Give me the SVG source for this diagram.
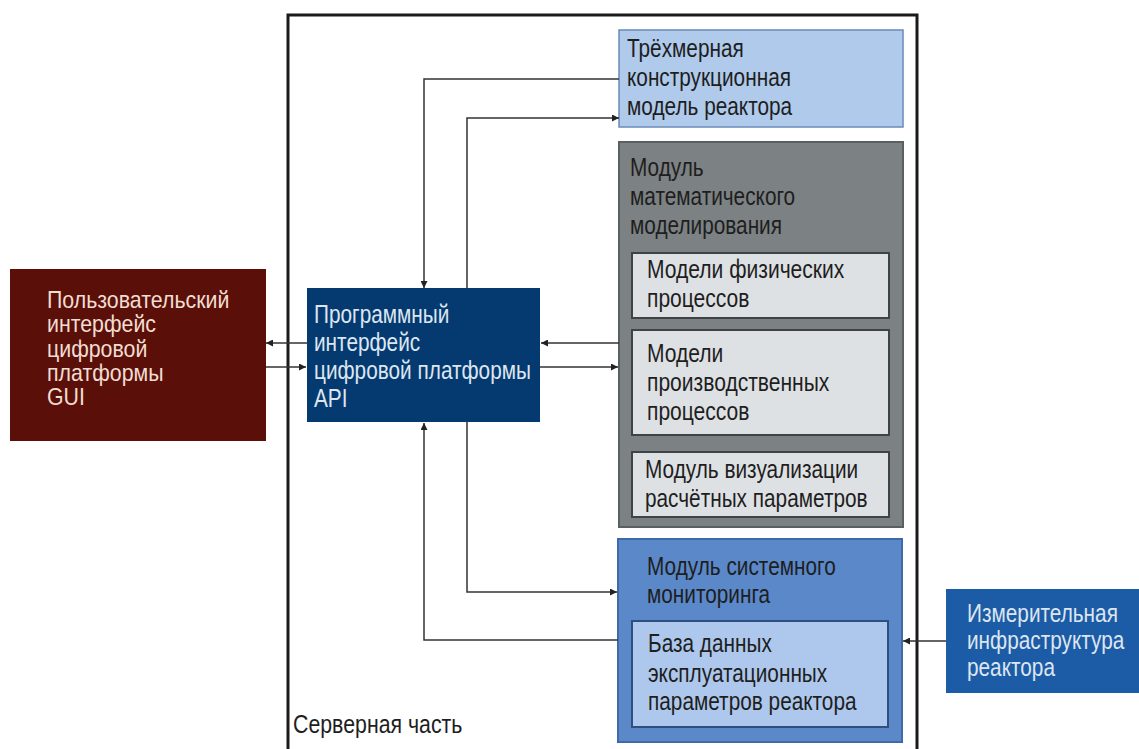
<svg xmlns="http://www.w3.org/2000/svg" width="1139" height="749" viewBox="0 0 1139 749">
<defs>
<style>
text{font-family:"Liberation Sans",Arial,sans-serif;font-size:26px}
.dk{fill:#1e1e1e}
.lt{fill:#dde6f0}
.gui{fill:#f2ddd3;font-size:24px}
.conn{fill:none;stroke:#333;stroke-width:1.5}
</style>
<marker id="ah" viewBox="0 0 8 8" refX="8" refY="4" markerWidth="7" markerHeight="7" markerUnits="userSpaceOnUse" orient="auto">
<path d="M0,0 L8,4 L0,8 z" fill="#222"/>
</marker>
</defs>
<rect width="1139" height="749" fill="#ffffff"/>
<g id="server">
<rect x="288" y="15" width="629" height="760" fill="none" stroke="#1a1a1a" stroke-width="3"/>
<text transform="translate(293,0) scale(0.82,1)" class="dk" font-size="24"><tspan x="0" y="733">Серверная часть</tspan></text>
</g>
<g id="model3d">
<rect x="619" y="30" width="284" height="97" fill="#afcaeb" stroke="#6a8ab8" stroke-width="1.5"/>
<text class="dk" transform="translate(627,0) scale(0.8,1)"><tspan x="0" y="57">Трёхмерная</tspan><tspan x="0" y="86">конструкционная</tspan><tspan x="0" y="115">модель реактора</tspan></text>
</g>
<g id="mathmod">
<rect x="619" y="142" width="284" height="385" fill="#7c8183" stroke="#5a5f61" stroke-width="2"/>
<text class="dk" transform="translate(630,0) scale(0.8,1)"><tspan x="0" y="176">Модуль</tspan><tspan x="0" y="205">математического</tspan><tspan x="0" y="234">моделирования</tspan></text>
</g>
<g id="phys">
<rect x="632" y="253" width="257" height="65" fill="#dee1e4" stroke="#3f4345" stroke-width="2"/>
<text class="dk" transform="translate(647,0) scale(0.81,1)"><tspan x="0" y="278">Модели физических</tspan><tspan x="0" y="307">процессов</tspan></text>
</g>
<g id="prod">
<rect x="632" y="330" width="257" height="105" fill="#dee1e4" stroke="#3f4345" stroke-width="2"/>
<text class="dk" transform="translate(647,0) scale(0.81,1)"><tspan x="0" y="362">Модели</tspan><tspan x="0" y="391">производственных</tspan><tspan x="0" y="420">процессов</tspan></text>
</g>
<g id="vis">
<rect x="632" y="452" width="257" height="65" fill="#dee1e4" stroke="#3f4345" stroke-width="2"/>
<text class="dk" transform="translate(645,0) scale(0.8,1)"><tspan x="0" y="478">Модуль визуализации</tspan><tspan x="0" y="507">расчётных параметров</tspan></text>
</g>
<g id="monitor">
<rect x="618" y="539" width="284" height="203" fill="#5a88c9" stroke="#3d6aab" stroke-width="2"/>
<text class="dk" transform="translate(647,0) scale(0.8,1)"><tspan x="0" y="575">Модуль системного</tspan><tspan x="0" y="603">мониторинга</tspan></text>
</g>
<g id="db">
<rect x="632" y="621" width="256" height="106" fill="#adc8ec" stroke="#2f4f80" stroke-width="2"/>
<text class="dk" transform="translate(648,0) scale(0.8,1)"><tspan x="0" y="652">База данных</tspan><tspan x="0" y="682">эксплуатационных</tspan><tspan x="0" y="710">параметров реактора</tspan></text>
</g>
<g id="api">
<rect x="307" y="288" width="233" height="134" fill="#043a70"/>
<text class="lt" transform="translate(314,0) scale(0.8,1)"><tspan x="0" y="323">Программный</tspan><tspan x="0" y="351">интерфейс</tspan><tspan x="0" y="379">цифровой платформы</tspan><tspan x="0" y="407">API</tspan></text>
</g>
<g id="gui">
<rect x="10" y="269" width="256" height="172" fill="#5a1008"/>
<text class="gui" transform="translate(47,0) scale(0.89,1)"><tspan x="0" y="308">Пользовательский</tspan><tspan x="0" y="332">интерфейс</tspan><tspan x="0" y="357">цифровой</tspan><tspan x="0" y="381">платформы</tspan><tspan x="0" y="405">GUI</tspan></text>
</g>
<g id="measure">
<rect x="946" y="589" width="193" height="104" fill="#1c5ba6"/>
<text class="lt" transform="translate(967,0) scale(0.8,1)"><tspan x="0" y="622">Измерительная</tspan><tspan x="0" y="649">инфраструктура</tspan><tspan x="0" y="676">реактора</tspan></text>
</g>
<g id="connectors">
<path class="conn" d="M619,79 H424 V288" marker-end="url(#ah)"/>
<path class="conn" d="M467,288 V118 H619" marker-end="url(#ah)"/>
<path class="conn" d="M619,343 H541" marker-end="url(#ah)"/>
<path class="conn" d="M540,367 H618" marker-end="url(#ah)"/>
<path class="conn" d="M307,343 H266" marker-end="url(#ah)"/>
<path class="conn" d="M266,367 H306" marker-end="url(#ah)"/>
<path class="conn" d="M467,422 V592 H617" marker-end="url(#ah)"/>
<path class="conn" d="M618,640 H424 V423" marker-end="url(#ah)"/>
<path class="conn" d="M946,641 H903" marker-end="url(#ah)"/>
</g>
</svg>
